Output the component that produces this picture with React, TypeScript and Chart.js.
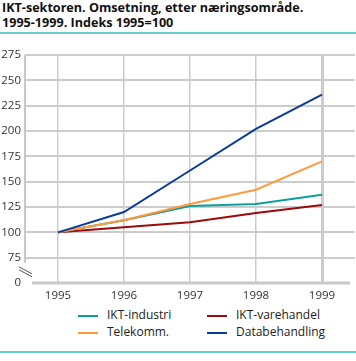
import React, { useEffect, useRef } from "react";
import { Chart, registerables } from "chart.js";

Chart.register(...registerables);

const years = ["1995", "1996", "1997", "1998", "1999"];
const iktIndustri = [100, 112, 126, 128, 137];
const iktVarehandel = [100, 105, 110, 119, 127];
const telekomm = [100, 112, 128, 142, 170];
const databehandling = [100, 120, 161, 202, 236];
const yTicks = [50, 75, 100, 125, 150, 175, 200, 225, 250, 275];
const yTickLabels = ["0", "75", "100", "125", "150", "175", "200", "225", "250", "275"];

const COLORS = {
  industri: "#0f9e9e",
  vare: "#9c0a0a",
  tele: "#ff9a3c",
  data: "#0a3a9a",
};

const breakPlugin = {
  id: "axisBreak",
  beforeDatasetsDraw(chart: any) {
    const { ctx, chartArea, scales } = chart;
    const y = scales.y;
    const left = chartArea.left;
    ctx.save();
    ctx.strokeStyle = "#c8c8c8";
    ctx.lineWidth = 2;
    ctx.beginPath();
    ctx.moveTo(left, chartArea.top);
    ctx.lineTo(left, y.getPixelForValue(70));
    ctx.stroke();
    ctx.lineWidth = 3;
    ctx.beginPath();
    ctx.moveTo(left + 7, chartArea.bottom);
    ctx.lineTo(chartArea.right - 5, chartArea.bottom);
    ctx.stroke();
    ctx.strokeStyle = "#555555";
    ctx.lineWidth = 1;
    const by = y.getPixelForValue(62);
    ctx.beginPath();
    ctx.moveTo(left - 6, by - 4);
    ctx.lineTo(left + 7, by + 3);
    ctx.moveTo(left - 6, by - 1);
    ctx.lineTo(left + 7, by + 6);
    ctx.stroke();
    ctx.restore();
  },
};

function ChartCanvas() {
  const ref = useRef<HTMLCanvasElement | null>(null);
  useEffect(() => {
    if (!ref.current) return;
    const mk = (label: string, data: number[], color: string) => ({
      label,
      data,
      borderColor: color,
      backgroundColor: color,
      borderWidth: 2,
      pointRadius: 0,
      tension: 0,
      fill: false,
    });
    const chart = new Chart(ref.current, {
      type: "line",
      data: {
        labels: years,
        datasets: [
          mk("Databehandling", databehandling, COLORS.data),
          mk("Telekomm.", telekomm, COLORS.tele),
          mk("IKT-industri", iktIndustri, COLORS.industri),
          mk("IKT-varehandel", iktVarehandel, COLORS.vare),
        ],
      },
      options: {
        animation: false,
        responsive: false,
        maintainAspectRatio: false,
        layout: { padding: { top: 15, right: 1, left: 0, bottom: 0 } },
        plugins: { legend: { display: false }, tooltip: { enabled: false } },
        scales: {
          x: {
            type: "category",
            offset: true,
            border: { display: false },
            grid: {
              offset: false,
              drawTicks: false,
              color: "#cccccc",
              lineWidth: (c: any) => (c.index === 4 ? 3 : 1.5),
            },
            ticks: {
              padding: 6,
              color: "#333333",
              font: { family: "Open Sans", size: 11.5 },
            },
            afterFit: (s: any) => {
              s.height = 22;
            },
          },
          y: {
            type: "linear",
            min: 50,
            max: 275,
            border: { display: false },
            afterBuildTicks: (s: any) => {
              s.ticks = yTicks.map((v) => ({ value: v }));
            },
            grid: {
              drawTicks: false,
              color: (c: any) => (c.tick && c.tick.value === 50 ? "rgba(0,0,0,0)" : "#cccccc"),
              lineWidth: 2,
            },
            ticks: {
              padding: 4,
              color: "#333333",
              font: { family: "Open Sans", size: 11.5 },
              callback: (v: any) => {
                const i = yTicks.indexOf(Number(v));
                return i >= 0 ? yTickLabels[i] : "";
              },
            },
            afterFit: (s: any) => {
              s.width = 25;
            },
          },
        },
      },
      plugins: [breakPlugin],
    } as any);
    return () => chart.destroy();
  }, []);
  return (
    <canvas
      ref={ref}
      width={356}
      height={265}
      style={{ position: "absolute", left: 0, top: 40, width: 356, height: 265 }}
    />
  );
}

const legendItems = [
  { label: "IKT-industri", color: COLORS.industri, x: 78, y: 316 },
  { label: "Telekomm.", color: COLORS.tele, x: 78, y: 333 },
  { label: "IKT-varehandel", color: COLORS.vare, x: 207, y: 316 },
  { label: "Databehandling", color: COLORS.data, x: 207, y: 333 },
];

export default function App() {
  return (
    <div
      style={{
        position: "absolute",
        left: 0,
        top: 0,
        width: 356,
        height: 361,
        background: "#ffffff",
        overflow: "hidden",
        fontFamily: "Open Sans",
      }}
    >
      <div
        style={{
          position: "absolute",
          left: 2,
          top: 0,
          fontWeight: 700,
          fontSize: 12.6,
          lineHeight: "15px",
          color: "#111",
          whiteSpace: "nowrap",
        }}
      >
        IKT-sektoren. Omsetning, etter næringsområde.
        <br />
        1995-1999. Indeks 1995=100
      </div>
      <div style={{ position: "absolute", left: 0, top: 32, width: 356, height: 2, background: "#66cccc" }} />
      <ChartCanvas />
      {legendItems.map((it) => (
        <div key={it.label}>
          <div
            style={{
              position: "absolute",
              left: it.x,
              top: it.y - 1,
              width: 20,
              height: 2,
              background: it.color,
            }}
          />
          <div
            style={{
              position: "absolute",
              left: it.x + 29,
              top: it.y - 9,
              fontSize: 12,
              lineHeight: "16px",
              color: "#222",
              whiteSpace: "nowrap",
            }}
          >
            {it.label}
          </div>
        </div>
      ))}
      <div style={{ position: "absolute", left: 0, top: 351, width: 356, height: 2, background: "#66cccc" }} />
    </div>
  );
}
